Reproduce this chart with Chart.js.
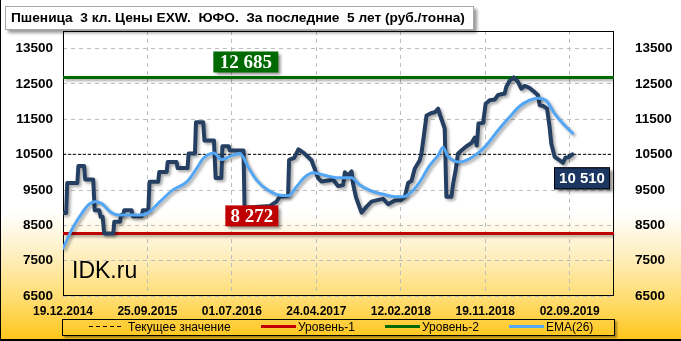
<!DOCTYPE html>
<html>
<head>
<meta charset="utf-8">
<script src="https://cdn.jsdelivr.net/npm/chart.js@4.4.1/dist/chart.umd.min.js"></script>
<style>
html,body{margin:0;padding:0;background:#fff;}
#wrap{position:relative;width:681px;height:341px;overflow:hidden;
  background:linear-gradient(to bottom,#fff 0%,#fff 62%,#fff0c4 74%,#ffdc6e 88%,#ffc416 100%);}
#wrap canvas{position:absolute;left:0;top:0;}
#frame{position:absolute;left:0;top:0;width:681px;height:341px;box-sizing:border-box;border-left:1px solid #000;border-bottom:2px solid #000;pointer-events:none;}
#title{position:absolute;left:5px;top:6px;width:469px;height:24px;box-sizing:border-box;background:#fff;border:1px solid #a8a8a8;
  box-shadow:3px 3px 3px rgba(0,0,0,.4);font:bold 13.7px 'Liberation Sans',Arial,sans-serif;line-height:22px;padding-left:5px;white-space:pre;color:#000;}
#logo{position:absolute;left:72px;top:257px;font:23px 'Liberation Sans',Arial,sans-serif;color:#000;}
#legend{position:absolute;left:62px;top:319px;width:553px;height:17px;box-sizing:border-box;border:1px solid #000;
  box-shadow:2px 2px 2px rgba(0,0,0,.35);font:12px 'Liberation Sans',Arial,sans-serif;color:#000;}
#legend .it{position:absolute;top:0;height:15px;line-height:15px;white-space:nowrap;}
#legend .it i{display:inline-block;vertical-align:middle;width:35px;height:3px;margin-right:2px;margin-top:-2px;}
#legend .it i.dash{height:1px;width:34px;margin-right:5px;background:repeating-linear-gradient(to right,#000 0 4px,transparent 4px 7px);}
</style>
</head>
<body>
<div id="wrap">
  <canvas id="cv" width="681" height="341"></canvas>
  <div id="title">Пшеница  3 кл. Цены EXW.  ЮФО.  За последние  5 лет (руб./тонна)</div>
  <div id="logo">IDK.ru</div>
  <div id="legend">
    <span class="it" style="left:26px"><i class="dash"></i>Текущее значение</span>
    <span class="it" style="left:198px"><i style="background:#c00000"></i>Уровень-1</span>
    <span class="it" style="left:322px"><i style="background:#006a00"></i>Уровень-2</span>
    <span class="it" style="left:446px"><i style="background:#55a8f2"></i>EMA(26)</span>
  </div>
  <div id="frame"></div>
</div>
<script>
// ось X в неделях от 19.12.2014
const xTickWeeks=[0,40,80,120,160,200,240];
const xTickLabels=['19.12.2014','25.09.2015','01.07.2016','24.04.2017','12.02.2018','19.11.2018','02.09.2019'];
const yTicks=[6500,7500,8500,9500,10500,11500,12500,13500];

const priceWeeks=[0,1.5,2,6.8,7.3,10,10.5,14.3,15,17.2,17.8,18.8,19.5,23.8,24.3,27,27.5,28.5,29,32.5,33,37.3,37.8,40.4,41,45.1,45.6,49.1,49.6,53.8,54.3,59,59.5,62.5,63,66.4,67,71.5,72.3,75,75.5,78.5,79,85.5,86,98,101.1,102.7,106.6,107.1,109.5,111.5,114,117.7,120.9,122.5,128,130.3,132.7,133.5,135,136.7,137.4,138.7,141.4,143.8,146.1,149.3,151.6,154,157.2,160.3,161.9,163.5,165.1,166.6,169,169.8,172.2,174.5,176.1,177.7,178.8,180.8,181.6,184,184.8,186,187.1,188.7,191.1,193.5,195,196,196.8,199,200.2,202.1,204.5,206.1,209.2,210,211.6,213.5,215.5,217.1,218.7,220.7,223.4,225,225.8,227.4,229.3,230.5,231.3,232.9,235.3,236.8,238.1,239.5,241.3];
const priceValues=[8850,8850,9700,9700,10180,10180,9800,9800,8930,8930,8740,8740,8272,8272,8600,8600,8790,8790,8930,8930,8760,8760,8930,8930,9730,9730,10010,10010,10290,10290,10120,10120,10530,10530,11420,11420,10900,10900,9840,9840,10740,10740,10620,10620,9000,9050,9170,9310,9330,10350,10410,10650,10550,10340,9830,9740,9790,9610,9640,10000,9900,10030,9680,9310,8860,9030,9170,9220,9250,9100,9200,9220,9310,9700,9760,10100,10340,10530,11610,11680,11700,11800,11590,11240,9310,9310,9680,10060,10530,10620,10740,10830,10980,10760,11380,11400,11940,12040,12060,12190,12230,12420,12590,12685,12560,12370,12450,12400,12270,12180,11900,11880,11800,11280,10810,10440,10340,10270,10420,10430,10510];

const emaWeeks=[0,4.9,8.9,12,15.1,18.3,22.2,26.2,31.7,35.6,39.9,45.9,52.2,58.6,63.3,66.4,71.5,75.1,79.1,83.8,87.7,91.7,97.2,102.7,106.7,110.6,114.6,118.5,121.7,129.6,136.7,140.6,145.3,151.6,157.2,161.1,165.1,169,173.7,177.7,180,182.4,184.8,187.9,194.2,199.8,206.1,211.6,216.3,221,225,229,232.9,236.8,241.3];
const emaValues=[7850,8460,8840,9080,9170,9120,8890,8790,8790,8790,8840,9170,9510,9730,10110,10390,10550,10360,10450,10530,10150,9780,9490,9350,9340,9590,9870,9990,9950,9850,9850,9640,9490,9380,9310,9310,9450,9730,10200,10480,10700,10450,10340,10290,10440,10720,11190,11570,11870,12040,12100,12020,11660,11380,11110];

const level1=8272, level2=12685, lastValue=10510;
const xMax=261;

function pts(xs,ys){return xs.map(function(x,i){return {x:x,y:ys[i]};});}
function flat(v){return [{x:0,y:v},{x:xMax,y:v}];}
function fmt(v){return String(v).replace(/\B(?=(\d{3})+(?!\d))/g,' ');}

const shadowPlugin={
  id:'shadow',
  beforeDatasetDraw:function(chart,args){
    const c=chart.ctx;c.save();
    if(chart.data.datasets[args.index].noShadow)return;
    c.shadowColor='rgba(0,0,0,0.35)';c.shadowBlur=3;c.shadowOffsetX=2;c.shadowOffsetY=2;
  },
  afterDatasetDraw:function(chart){chart.ctx.restore();}
};

const framePlugin={
  id:'frame',
  beforeDatasetsDraw:function(chart){
    const a=chart.chartArea,c=chart.ctx;
    c.save();c.strokeStyle='#000';c.lineWidth=1;
    c.strokeRect(a.left+0.5,a.top+0.5,a.right-a.left-1,a.bottom-a.top-1);
    c.restore();
  }
};

function tag(c,text,x,y,w,h,bg,font,border){
  c.save();
  c.shadowColor='rgba(0,0,0,0.45)';c.shadowBlur=3;c.shadowOffsetX=3;c.shadowOffsetY=3;
  c.fillStyle=bg;c.fillRect(x,y,w,h);
  c.restore();
  c.save();
  if(border){c.strokeStyle='#000';c.lineWidth=1;c.strokeRect(x+0.5,y+0.5,w-1,h-1);}
  c.fillStyle='#fff';c.font=font;c.textAlign='center';c.textBaseline='middle';
  c.fillText(text,x+w/2,y+h/2+1);
  c.restore();
}

const tagsPlugin={
  id:'tags',
  afterDatasetsDraw:function(chart){
    const c=chart.ctx,xs=chart.scales.x,ys=chart.scales.y,a=chart.chartArea;
    const rx=xs.getPixelForValue(102);
    tag(c,fmt(level2),rx-65,ys.getPixelForValue(level2)-26,65,21,'#006a00','bold 19px "Liberation Serif","Times New Roman",serif');
    tag(c,fmt(level1),rx-53,ys.getPixelForValue(level1)-28,53,21,'#c00000','bold 19px "Liberation Serif","Times New Roman",serif');
    const ly=ys.getPixelForValue(lastValue);
    tag(c,fmt(lastValue),a.right-60,ly+13,56,22,'#1b3660','bold 15px "Liberation Sans",Arial,sans-serif',true);
  }
};

const tickFont={family:'"Liberation Sans",Arial,sans-serif',weight:'bold',size:13.5};
const gridStyle={color:'#bdbdbd',lineWidth:1,drawTicks:false};
function yLabel(v){return String(v);}

new Chart(document.getElementById('cv'),{
  type:'line',
  data:{datasets:[
    {label:'EMA(26)',data:pts(emaWeeks,emaValues),borderColor:'#52a6f4',borderWidth:3,cubicInterpolationMode:'monotone',pointRadius:0,borderCapStyle:'round'},
    {label:'Цена',data:pts(priceWeeks,priceValues),borderColor:'#243f62',borderWidth:4,tension:0,pointRadius:0,borderJoinStyle:'round',borderCapStyle:'round'},
    {label:'Текущее значение',data:flat(lastValue),borderColor:'#000',borderWidth:1,borderDash:[3,2],pointRadius:0,noShadow:true},
    {label:'Уровень-1',data:flat(level1),borderColor:'#c00000',borderWidth:3,pointRadius:0},
    {label:'Уровень-2',data:flat(level2),borderColor:'#006a00',borderWidth:3,pointRadius:0}
  ]},
  options:{
    responsive:false,animation:false,devicePixelRatio:1,
    layout:{padding:{top:31,left:0,right:0,bottom:0}},
    plugins:{legend:{display:false},tooltip:{enabled:false},title:{display:false}},
    scales:{
      x:{type:'linear',min:0,max:xMax,
        afterBuildTicks:function(s){s.ticks=xTickWeeks.map(function(v){return {value:v};});},
        afterFit:function(s){s.height=45;},
        grid:gridStyle,border:{display:false,dash:[4,4]},
        ticks:{padding:8,color:'#000',font:{family:tickFont.family,weight:'bold',size:12},maxRotation:0,autoSkip:false,
          callback:function(v){return xTickLabels[xTickWeeks.indexOf(v)];}}},
      y:{position:'left',min:6500,max:14000,
        afterBuildTicks:function(s){s.ticks=yTicks.map(function(v){return {value:v};});},
        afterFit:function(s){s.width=63;},
        grid:gridStyle,border:{display:false,dash:[4,4]},
        ticks:{padding:10,color:'#000',font:tickFont,autoSkip:false,callback:yLabel}},
      y2:{position:'right',min:6500,max:14000,
        afterBuildTicks:function(s){s.ticks=yTicks.map(function(v){return {value:v};});},
        afterFit:function(s){s.width=67;},
        grid:{display:false},border:{display:false},
        ticks:{padding:13,color:'#000',font:tickFont,autoSkip:false,callback:yLabel}}
    }
  },
  plugins:[shadowPlugin,framePlugin,tagsPlugin]
});
</script>
</body>
</html>
